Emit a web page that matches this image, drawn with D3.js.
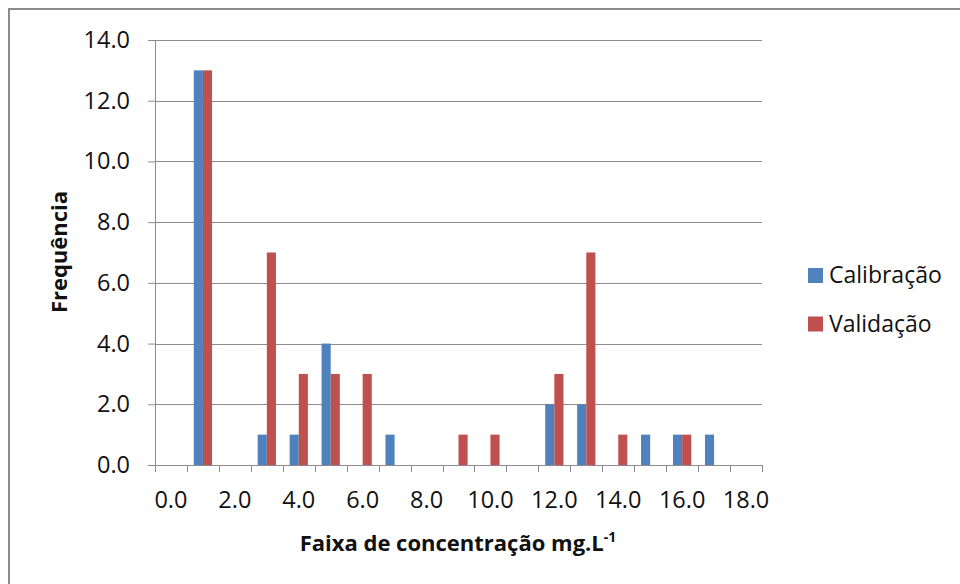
<!DOCTYPE html>
<html>
<head>
<meta charset="utf-8">
<script src="https://cdn.jsdelivr.net/npm/d3@7"></script>
<style>
  html, body { margin: 0; padding: 0; background: #fff; }
  svg { display: block; }
  text { font-family: "Open Sans", sans-serif; fill: #111; }
</style>
</head>
<body>
<script>
// Concentration classes (mg.L-1) used as chart categories
const categories = ["0.0","1.0","2.0","3.0","4.0","5.0","6.0","7.0","8.0","9.0",
                    "10.0","11.0","12.0","13.0","14.0","15.0","16.0","17.0","18.0"];
const seriesNames = ["Calibração", "Validação"];
const calibracao = [0,13,0,1,1,4,0,1,0,0,0,0,2,2,0,1,1,1,0];
const validacao  = [0,13,0,7,3,3,3,0,0,1,1,0,3,7,1,0,1,0,0];
const yTicks = [0,2,4,6,8,10,12,14];
const colors = ["#4F81BD", "#C0504D"];

const W = 960, H = 584;
const plot = { left: 155, right: 762, top: 40, bottom: 465 };

const svg = d3.select("body").append("svg").attr("width", W).attr("height", H);

// outer frame (top and left edges)
svg.append("path")
  .attr("d", `M9,${H} L9,9 L${W},9`)
  .attr("fill", "none").attr("stroke", "#8c8c8c").attr("stroke-width", 2);

const x = d3.scaleBand().domain(categories).range([plot.left, plot.right]).padding(0);
const groupW = x.bandwidth() / 1.75;
const xs = d3.scaleBand().domain(seriesNames)
  .range([(x.bandwidth() - groupW) / 2, (x.bandwidth() + groupW) / 2]).padding(0);
const y = d3.scaleLinear().domain([0, 14]).range([plot.bottom, plot.top]);

// horizontal gridlines
svg.append("g").selectAll("line").data(yTicks.filter(d => d > 0)).join("line")
  .attr("x1", plot.left).attr("x2", plot.right)
  .attr("y1", d => Math.round(y(d)) + 0.5).attr("y2", d => Math.round(y(d)) + 0.5)
  .attr("stroke", "#8c8c8c").attr("stroke-width", 1);

// bars
const rows = categories.map((c, i) => ({ cat: c, vals: [calibracao[i], validacao[i]] }));
const groups = svg.append("g").selectAll("g").data(rows).join("g")
  .attr("transform", d => `translate(${x(d.cat)},0)`);
groups.selectAll("rect")
  .data(d => d.vals.map((v, j) => ({ name: seriesNames[j], v, j })).filter(e => e.v > 0))
  .join("rect")
  .attr("x", e => xs(e.name))
  .attr("width", xs.bandwidth())
  .attr("y", e => y(e.v))
  .attr("height", e => y(0) - y(e.v))
  .attr("fill", e => colors[e.j]);

// y axis
const yAxis = svg.append("g").attr("transform", `translate(${plot.left},0)`)
  .call(d3.axisLeft(y).tickValues(yTicks).tickFormat(d3.format(".1f")).tickSize(7).tickPadding(18));
yAxis.select(".domain").attr("stroke", "#8c8c8c");
yAxis.selectAll(".tick line").attr("stroke", "#8c8c8c");
yAxis.selectAll(".tick text").style("font-size", "23.5px").attr("fill", "#111")
  .attr("font-family", "Open Sans, sans-serif");

// x axis: ticks on category boundaries, labels every other category
const xAxisG = svg.append("g").attr("transform", `translate(0,${plot.bottom})`);
xAxisG.append("line").attr("x1", plot.left).attr("x2", plot.right)
  .attr("y1", 0.5).attr("y2", 0.5).attr("stroke", "#8c8c8c");
const bounds = categories.map(c => x(c)).concat([plot.right]);
xAxisG.selectAll("line.tk").data(bounds).join("line").attr("class", "tk")
  .attr("x1", d => Math.round(d) + 0.5).attr("x2", d => Math.round(d) + 0.5)
  .attr("y1", 0).attr("y2", 7).attr("stroke", "#8c8c8c");
xAxisG.selectAll("text").data(categories.filter((c, i) => i % 2 === 0)).join("text")
  .attr("x", d => x(d) + x.bandwidth() / 2)
  .attr("y", 43)
  .attr("text-anchor", "middle")
  .style("font-size", "23.5px")
  .text(d => d);

// axis titles
const xt = svg.append("text")
  .attr("x", 458).attr("y", 551)
  .attr("text-anchor", "middle")
  .style("font-size", "22px").style("font-weight", "bold");
xt.append("tspan").text("Faixa de concentração mg.L");
xt.append("tspan").attr("dy", -9).style("font-size", "14px").text("-1");

svg.append("text")
  .attr("transform", "translate(67,252) rotate(-90)")
  .attr("text-anchor", "middle")
  .style("font-size", "22px").style("font-weight", "bold")
  .text("Frequência");

// legend
const legend = svg.append("g").selectAll("g").data(seriesNames).join("g")
  .attr("transform", (d, i) => `translate(808,${268 + i * 48.5})`);
legend.append("rect").attr("width", 15).attr("height", 15)
  .attr("fill", (d, i) => colors[i]);
legend.append("text").attr("x", 21).attr("y", 15)
  .style("font-size", "23px").text(d => d);
</script>
</body>
</html>
